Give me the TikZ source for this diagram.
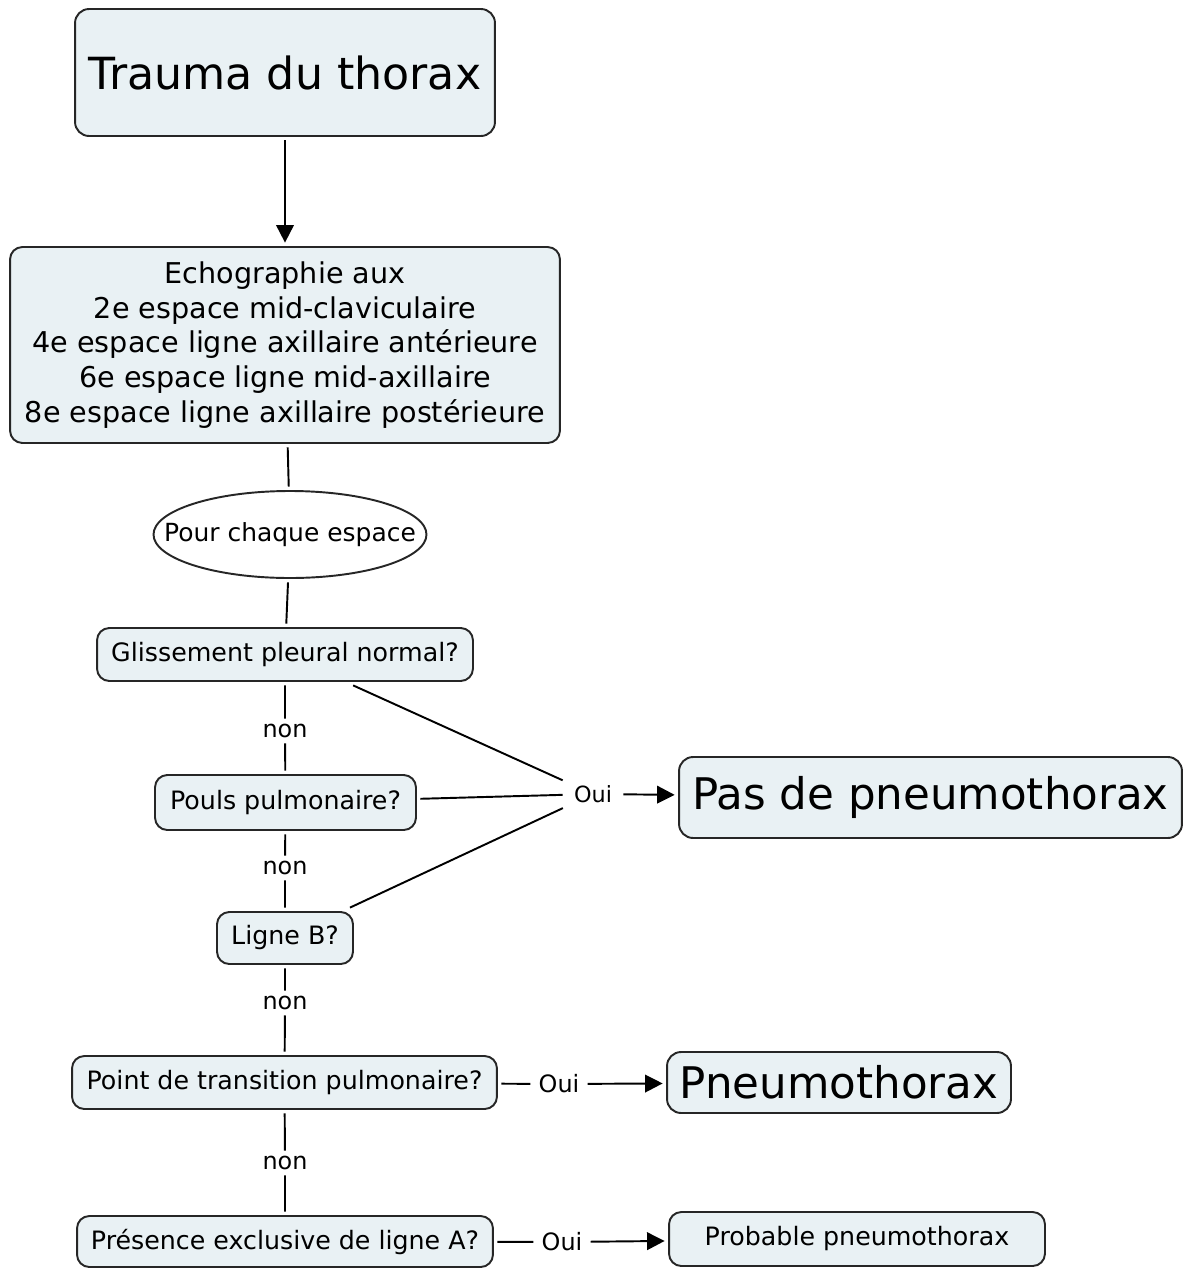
\documentclass[tikz,border=0pt]{standalone}
\usepackage{fontspec}
\setmainfont{DejaVu Sans}
\usetikzlibrary{arrows.meta}
\definecolor{boxfill}{RGB}{233,241,244}

\begin{document}
\begin{tikzpicture}[x=0.02cm,y=-0.02cm,
  box/.style={draw=black!85,fill=boxfill,rounded corners=7pt,line width=1.1pt,
    align=center,inner sep=0pt,outer sep=2.5pt,font=\fontsize{14.4}{19.8}\selectfont},
  bigbox/.style={box,rounded corners=8pt,font=\fontsize{24.8}{30}\selectfont},
  lab/.style={inner xsep=4.5pt,inner ysep=3pt,font=\fontsize{13.6}{16}\selectfont},
  link/.style={line width=1.1pt},
  arr/.style={link,-{Triangle[length=10pt,width=10pt]}}]
\useasboundingbox (0,0) rectangle (1188,1268);
\node[bigbox,minimum width=8.4cm,minimum height=2.54cm,font=\fontsize{25.2}{30}\selectfont] (trauma) at (285,72.5) {Trauma du thorax};
\node[box,minimum width=11cm,minimum height=3.92cm,font=\fontsize{16.3}{19.8}\selectfont] (echo) at (285,345) {Echographie aux\\2e espace mid-claviculaire\\4e espace ligne axillaire antérieure\\6e espace ligne mid-axillaire\\8e espace ligne axillaire postérieure};
\node[inner sep=0pt,outer sep=2.5pt,minimum width=5.46cm,minimum height=1.74cm,font=\fontsize{14.2}{19.8}\selectfont] (chaque) at (290,534.5) {Pour chaque espace};
\draw[line width=1.1pt,draw=black!85] (chaque.center) ellipse [x radius=136.5, y radius=43.5];
\node[box,minimum width=7.52cm,minimum height=1.06cm] (glisse) at (285,654.5) {Glissement pleural normal?};
\node[box,minimum width=5.22cm,minimum height=1.1cm] (pouls) at (285.5,802.5) {Pouls pulmonaire?};
\node[box,minimum width=2.72cm,minimum height=1.04cm] (ligneb) at (285,938) {Ligne B?};
\node[box,minimum width=8.5cm,minimum height=1.06cm] (transition) at (284.5,1082.5) {Point de transition pulmonaire?};
\node[box,minimum width=8.32cm,minimum height=1.02cm] (lignea) at (285,1241.5) {Présence exclusive de ligne A?};
\node[bigbox,minimum width=10.06cm,minimum height=1.62cm] (pasde) at (930.5,797.5) {Pas de pneumothorax};
\node[bigbox,minimum width=6.88cm,minimum height=1.22cm] (pneumo) at (839,1082.5) {Pneumothorax};
\node[box,minimum width=7.52cm,minimum height=1.08cm] (probable) at (857,1239) {Probable pneumothorax};
\node[lab] (non1) at (285,731) {non};
\node[lab] (non2) at (285,868) {non};
\node[lab] (non3) at (285,1003) {non};
\node[lab] (non4) at (285,1163) {non};
\node[inner sep=0pt,minimum width=1.2cm,minimum height=0.55cm,font=\fontsize{12.7}{14}\selectfont] (oui1) at (593,794) {Oui};
\node[lab] (oui2) at (559,1084) {Oui};
\node[lab] (oui3) at (562,1242) {Oui};
\draw[arr] (trauma) -- (echo);
\draw[link] (echo) -- (chaque);
\draw[link] (chaque) -- (glisse);
\draw[link] (glisse) -- (non1) -- (pouls);
\draw[link] (pouls) -- (non2) -- (ligneb);
\draw[link] (ligneb) -- (non3) -- (transition);
\draw[link] (transition) -- (non4) -- (lignea);
\draw[link] (glisse) -- (oui1);
\draw[link] (pouls) -- (oui1);
\draw[link] (ligneb) -- (oui1);
\draw[arr] (oui1) -- (pasde);
\draw[link] (transition) -- (oui2);
\draw[arr] (oui2) -- (pneumo);
\draw[link] (lignea) -- (oui3);
\draw[arr] (oui3) -- (probable);
\end{tikzpicture}
\end{document}
